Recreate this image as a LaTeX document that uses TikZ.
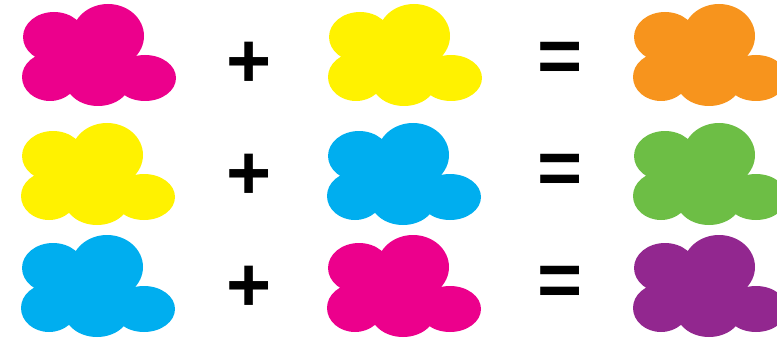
\documentclass[tikz,border=0pt]{standalone}
\usepackage{fontspec}
\setsansfont{Liberation Sans}
\usepackage{xcolor}
\usetikzlibrary{positioning}
\definecolor{inkMagenta}{RGB}{236, 0, 140}
\definecolor{inkYellow}{RGB}{255, 242, 0}
\definecolor{inkCyan}{RGB}{0, 174, 239}
\definecolor{inkOrange}{RGB}{247, 148, 29}
\definecolor{inkGreen}{RGB}{109, 190, 69}
\definecolor{inkPurple}{RGB}{146, 39, 143}

\begin{document}
\begin{tikzpicture}[
                x=0.03cm, y=-0.03cm,
                sign/.style={font=\sffamily\bfseries\fontsize{66}{66}\selectfont, inner sep=0pt, anchor=base},
                blob/.pic={
                    \fill[#1] (54,37) ellipse [x radius=31, y radius=25]
                              (108,36) ellipse [x radius=36, y radius=32]
                              (50,77) ellipse [x radius=28, y radius=24]
                              (98,80) ellipse [x radius=33, y radius=26]
                              (145,78) ellipse [x radius=31, y radius=23]
                              (90,60) ellipse [x radius=45, y radius=30];
                }
            ]

                \clip (0,0) rectangle (777,339);

                % --- ROW 1: MAGENTA + YELLOW = ORANGE ---
                \pic (m1) at (0,0) {blob=inkMagenta};
                \node[sign] (plus1) at (249.5,87.5) {+};
                \pic (y1) at (306,0) {blob=inkYellow};
                \node[sign] (eq1) at (560,82.5) {=};
                \pic (o1) at (611,0) {blob=inkOrange};

                % --- ROW 2: YELLOW + CYAN = GREEN ---
                \pic (y2) at (-1,119) {blob=inkYellow};
                \node[sign] (plus2) at (249.5,199.5) {+};
                \pic (c2) at (305,119) {blob=inkCyan};
                \node[sign] (eq2) at (560,194.5) {=};
                \pic (g2) at (611,119) {blob=inkGreen};

                % --- ROW 3: CYAN + MAGENTA = PURPLE ---
                \pic (c3) at (-1,231) {blob=inkCyan};
                \node[sign] (plus3) at (249.5,311.5) {+};
                \pic (m3) at (305,231) {blob=inkMagenta};
                \node[sign] (eq3) at (560,306.5) {=};
                \pic (p3) at (611,231) {blob=inkPurple};

                \end{tikzpicture}
\end{document}
